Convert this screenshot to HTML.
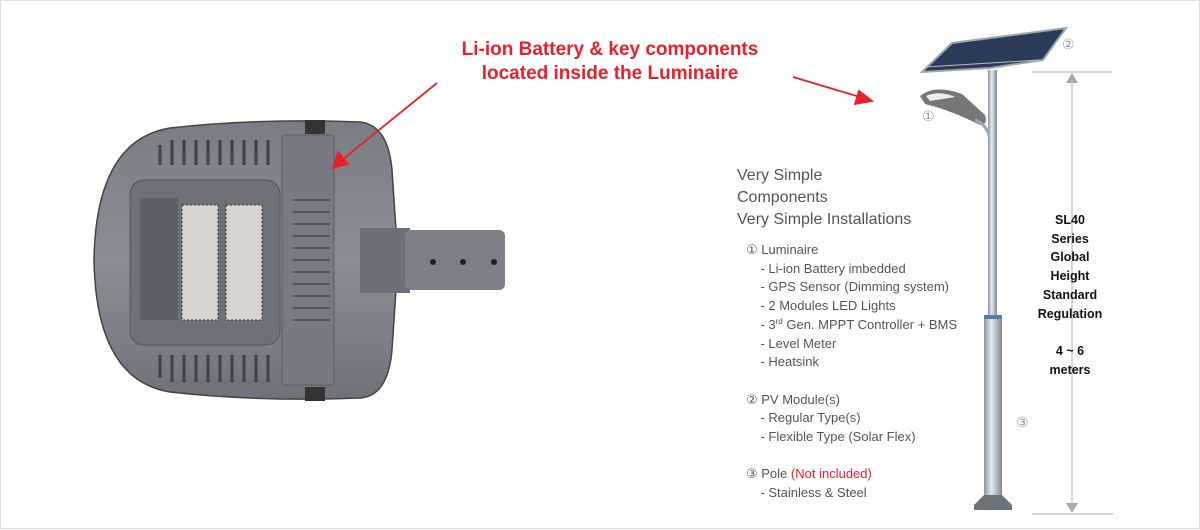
<!DOCTYPE html>
<html><head><meta charset="utf-8"><style>
html,body{margin:0;padding:0;background:#fff}
#c{position:relative;width:1200px;height:530px;overflow:hidden;font-family:"Liberation Sans","DejaVu Sans",sans-serif}
.t{position:absolute;white-space:nowrap;color:#555}
sup{line-height:0;font-size:8px;vertical-align:5px}
</style></head><body><div id="c">
<svg width="1200" height="530" style="position:absolute;left:0;top:0">
<defs>
<linearGradient id="pg" x1="0" x2="1"><stop offset="0" stop-color="#8a949c"/><stop offset=".4" stop-color="#e4eaee"/><stop offset="1" stop-color="#7f8890"/></linearGradient>
<linearGradient id="bd" x1="0" y1="0" x2="0" y2="1"><stop offset="0" stop-color="#7a7d84"/><stop offset=".5" stop-color="#8b8e95"/><stop offset="1" stop-color="#6f7278"/></linearGradient>
</defs>
<rect x="0.5" y="0.5" width="1199" height="528" fill="none" stroke="#ddd"/>
<path d="M170,128 Q260,118 360,122 Q388,125 392,170 L398,260 L392,350 Q388,396 360,398 Q260,402 170,392 Q96,380 94,260 Q96,140 170,128Z" fill="url(#bd)" stroke="#444" stroke-width="1.5"/>
<g stroke="#3f4146" stroke-width="3">
<line x1="160" y1="145" x2="160" y2="165"/><line x1="172" y1="140" x2="172" y2="165"/><line x1="184" y1="140" x2="184" y2="165"/><line x1="196" y1="140" x2="196" y2="165"/><line x1="208" y1="140" x2="208" y2="165"/><line x1="220" y1="140" x2="220" y2="165"/><line x1="232" y1="140" x2="232" y2="165"/><line x1="244" y1="140" x2="244" y2="165"/><line x1="256" y1="140" x2="256" y2="165"/><line x1="268" y1="140" x2="268" y2="165"/>
<line x1="160" y1="355" x2="160" y2="378"/><line x1="172" y1="355" x2="172" y2="382"/><line x1="184" y1="355" x2="184" y2="382"/><line x1="196" y1="355" x2="196" y2="382"/><line x1="208" y1="355" x2="208" y2="382"/><line x1="220" y1="355" x2="220" y2="382"/><line x1="232" y1="355" x2="232" y2="382"/><line x1="244" y1="355" x2="244" y2="382"/><line x1="256" y1="355" x2="256" y2="382"/><line x1="268" y1="355" x2="268" y2="382"/>
</g>
<rect x="130" y="180" width="150" height="165" rx="14" fill="#6e7177" stroke="#55585d"/>
<rect x="140" y="198" width="38" height="122" fill="#5d6066"/>
<rect x="182" y="205" width="36" height="115" fill="#d9d4d2" stroke="#333" stroke-dasharray="2 2"/>
<rect x="226" y="205" width="36" height="115" fill="#d9d4d2" stroke="#333" stroke-dasharray="2 2"/>
<rect x="282" y="135" width="52" height="250" rx="4" fill="#777a80" stroke="#5a5d62"/>
<g stroke="#555" stroke-width="2"><line x1="293" y1="200" x2="330" y2="200"/><line x1="293" y1="212" x2="330" y2="212"/><line x1="293" y1="224" x2="330" y2="224"/><line x1="293" y1="236" x2="330" y2="236"/><line x1="293" y1="248" x2="330" y2="248"/><line x1="293" y1="260" x2="330" y2="260"/><line x1="293" y1="272" x2="330" y2="272"/><line x1="293" y1="284" x2="330" y2="284"/><line x1="293" y1="296" x2="330" y2="296"/><line x1="293" y1="308" x2="330" y2="308"/><line x1="293" y1="320" x2="330" y2="320"/></g>
<rect x="305" y="120" width="20" height="14" fill="#333"/><rect x="305" y="387" width="20" height="14" fill="#333"/>
<rect x="360" y="228" width="50" height="65" fill="#6d7076"/>
<rect x="405" y="230" width="100" height="60" rx="6" fill="#7d8087"/>
<g fill="#222"><circle cx="433" cy="262" r="3"/><circle cx="463" cy="262" r="3"/><circle cx="494" cy="262" r="3"/></g>
<g stroke="#e8202a" stroke-width="1.8" fill="#e8202a">
<line x1="437" y1="83" x2="342" y2="160"/><path d="M333,168 L338,152 L348,164Z"/>
<line x1="793" y1="77" x2="860" y2="97"/><path d="M872,101 L855,104 L859,91Z"/>
</g>
<path d="M922,72 L952,43 L1066,28 L1043,60 L990,68Z" fill="#2c3a5a" stroke="#9aa" stroke-width="2"/>
<path d="M925,67 L1040,60" stroke="#bbb"/>
<path d="M920,96 Q935,84 962,94 L985,115 Q988,125 980,125 Q950,110 925,104Z" fill="#777"/>
<path d="M926,96 Q940,90 955,97 L930,101Z" fill="#eee"/>
<path d="M975,120 Q988,125 990,140" stroke="#9aa" stroke-width="3" fill="none"/>
<rect x="988" y="70" width="9" height="248" fill="url(#pg)"/>
<rect x="984" y="316" width="18" height="182" fill="url(#pg)"/>
<rect x="984" y="315" width="18" height="4" fill="#4a7fb0"/>
<path d="M984,495 L1002,495 L1012,505 L1012,510 L974,510 L974,505Z" fill="#6b737a"/>
<g stroke="#bbb" stroke-width="1.2"><line x1="1032" y1="72" x2="1112" y2="72"/><line x1="1032" y1="514" x2="1113" y2="514"/><line x1="1072" y1="80" x2="1072" y2="505"/></g>
<path d="M1072,73 L1066,83 L1078,83Z M1072,513 L1066,503 L1078,503Z" fill="#aaa"/>
</svg>
<div class="t" style="left:400px;top:38px;width:420px;text-align:center;color:#e8202a;font-weight:bold;font-size:19px;line-height:24px">Li-ion Battery &amp; key components<br>located inside the Luminaire</div>
<div class="t" style="left:1062px;top:36px;font-size:14px;color:#999">②</div>
<div class="t" style="left:922px;top:108px;font-size:14px;color:#999">①</div>
<div class="t" style="left:1016px;top:414px;font-size:14px;color:#999">③</div>
<div class="t" style="left:737px;top:165px;font-size:16px;line-height:22px;color:#555">Very Simple<br>Components<br>Very Simple Installations</div>
<div class="t" style="left:746px;top:241px;font-size:13px;line-height:18.7px;color:#555">① Luminaire<br>&nbsp;&nbsp;&nbsp;&nbsp;- Li-ion Battery imbedded<br>&nbsp;&nbsp;&nbsp;&nbsp;- GPS Sensor (Dimming system)<br>&nbsp;&nbsp;&nbsp;&nbsp;- 2 Modules LED Lights<br>&nbsp;&nbsp;&nbsp;&nbsp;- 3<sup>rd</sup> Gen. MPPT Controller + BMS<br>&nbsp;&nbsp;&nbsp;&nbsp;- Level Meter<br>&nbsp;&nbsp;&nbsp;&nbsp;- Heatsink<br><br>② PV Module(s)<br>&nbsp;&nbsp;&nbsp;&nbsp;- Regular Type(s)<br>&nbsp;&nbsp;&nbsp;&nbsp;- Flexible Type (Solar Flex)<br><br>③ Pole <span style="color:#e8202a">(Not included)</span><br>&nbsp;&nbsp;&nbsp;&nbsp;- Stainless &amp; Steel</div>
<div class="t" style="left:1020px;top:211px;width:100px;text-align:center;font-size:12.5px;font-weight:bold;line-height:18.7px;color:#111">SL40<br>Series<br>Global<br>Height<br>Standard<br>Regulation<br><br>4 ~ 6<br>meters</div>
</div></body></html>
